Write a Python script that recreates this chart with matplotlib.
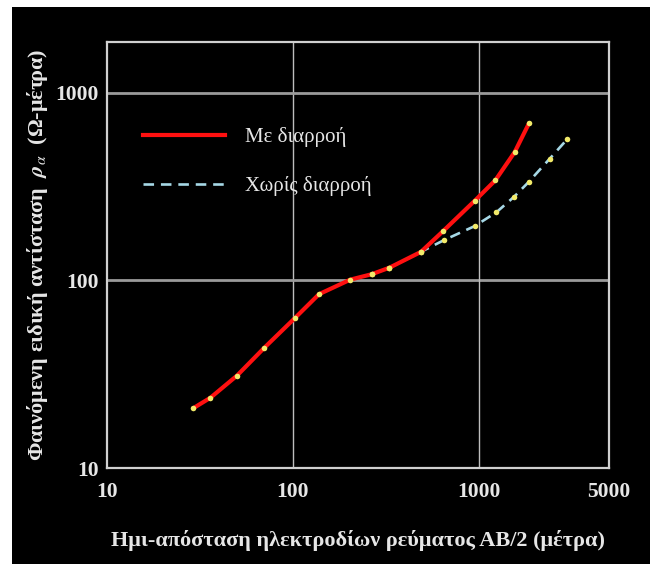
import matplotlib
matplotlib.use("Agg")
import matplotlib.pyplot as plt
from matplotlib.lines import Line2D
from matplotlib.patches import Rectangle

# Half-spacing AB/2 (m) and apparent resistivity (Ohm-m)
ab2_leak = [29, 36, 50, 70, 103, 138, 203, 265, 330, 487, 640, 948, 1224, 1556, 1857]
rho_leak = [20.8, 23.7, 31.1, 43.7, 63.4, 84.5, 101, 108, 117, 142, 183, 266, 342, 484, 689]

ab2_noleak = [265, 330, 487, 647, 948, 1240, 1541, 1849, 2400, 2972]
rho_noleak = [108, 117, 142, 164, 195, 231, 279, 335, 446, 565]

xticks = [10, 100, 1000, 5000]
xtick_labels = ["10", "100", "1000", "5000"]
yticks = [10, 100, 1000]
ytick_labels = ["10", "100", "1000"]

label_leak = "Με διαρροή"
label_noleak = "Χωρίς διαρροή"
xlabel = "Ημι-απόσταση ηλεκτροδίων ρεύματος ΑΒ/2 (μέτρα)"
ylabel = r"Φαινόμενη ειδική αντίσταση  $\boldsymbol{\rho}_\alpha$  (Ω-μέτρα)"

plt.rcParams["font.family"] = ["Liberation Serif", "DejaVu Serif"]
plt.rcParams["mathtext.fontset"] = "stix"

W, H = 650, 564
fig = plt.figure(figsize=(W / 100, H / 100), dpi=100, facecolor="white")
fig.patches.append(Rectangle((12 / W, 0), 1 - 12 / W, 1 - 7 / H,
                             transform=fig.transFigure, facecolor="black",
                             edgecolor="none", zorder=-10))

ax = fig.add_axes([107 / W, 1 - 468 / H, 502 / W, 426 / H])
ax.set_facecolor("black")
ax.set_xscale("log")
ax.set_yscale("log")
ax.set_xlim(10, 5000)
ax.set_ylim(10, 1870)

for v in [100, 1000]:
    ax.axvline(v, color="#bdbdbd", lw=1.0, zorder=1)
    ax.axhline(v, color="#9a9a9a", lw=2.0, zorder=1)

ax.plot(ab2_noleak, rho_noleak, color="#a6d8e6", lw=1.9, ls=(0, (4, 2.6)),
        zorder=3)
ax.plot(ab2_leak, rho_leak, color="#ff1010", lw=3.0, zorder=4,
        solid_capstyle="round", solid_joinstyle="round")
ax.plot(ab2_noleak, rho_noleak, ls="none", marker="o", ms=4,
        mfc="#f2ea6a", mec="none", zorder=5)
ax.plot(ab2_leak, rho_leak, ls="none", marker="o", ms=4,
        mfc="#f2ea6a", mec="none", zorder=6)

for s in ax.spines.values():
    s.set_color("#d0d0d0")
    s.set_linewidth(1.6)
    s.set_zorder(7)

ax.minorticks_off()
ax.set_xticks(xticks)
ax.set_xticklabels(xtick_labels)
ax.set_yticks(yticks)
ax.set_yticklabels(ytick_labels)
ax.tick_params(length=0, colors="#e6e6e6", labelsize=15.5)
ax.tick_params(axis="x", pad=10)
ax.tick_params(axis="y", pad=6)
for t in ax.get_xticklabels() + ax.get_yticklabels():
    t.set_fontweight("bold")

ax.set_xlabel(xlabel, color="#e6e6e6", fontsize=16, fontweight="bold",
              labelpad=20)
ax.set_ylabel(ylabel, color="#e6e6e6", fontsize=16, fontweight="bold",
              labelpad=4)

handles = [Line2D([], [], color="#ff1010", lw=3.0),
           Line2D([], [], color="#a6d8e6", lw=1.9, ls=(0, (4, 2.6)))]
leg = ax.legend(handles, [label_leak, label_noleak], loc="upper left",
                bbox_to_anchor=(143 / W, 1 - 127 / H),
                bbox_transform=fig.transFigure, frameon=False, fontsize=15,
                handlelength=3.95, handletextpad=0.95, labelspacing=1.4,
                borderpad=0, borderaxespad=0)
for t in leg.get_texts():
    t.set_color("#e6e6e6")

fig.savefig("out.png", dpi=100, facecolor="white")
